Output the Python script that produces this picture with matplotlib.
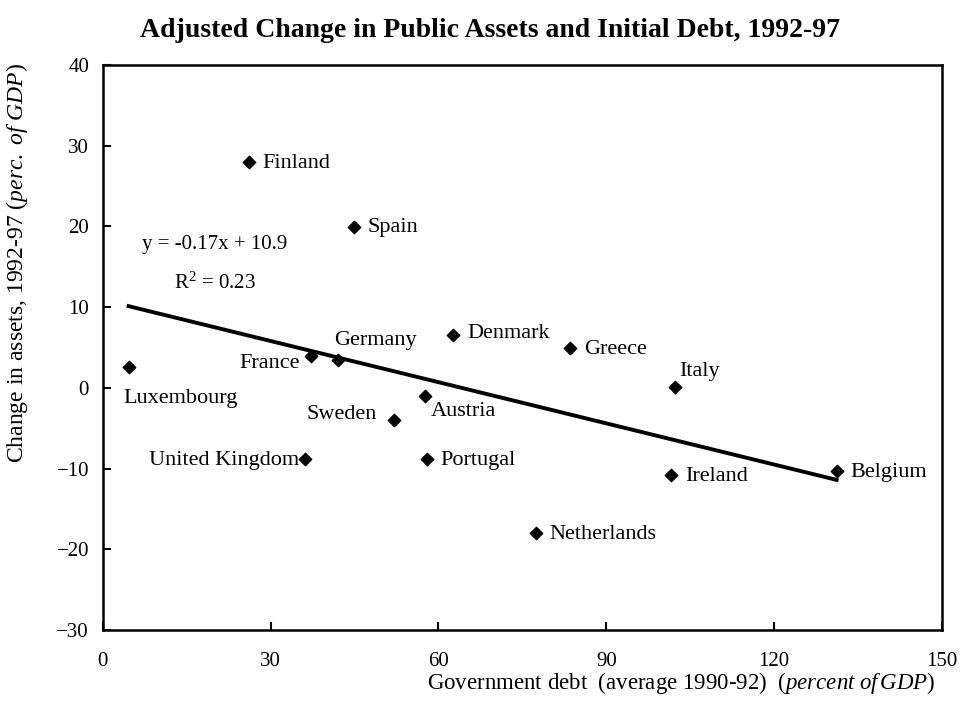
"""Adjusted change in public assets vs initial debt, 1992-97."""

import matplotlib
matplotlib.use("Agg")
import matplotlib.pyplot as plt
import numpy as np

plt.rcParams["font.family"] = ["Liberation Serif", "DejaVu Serif"]
plt.rcParams["mathtext.fontset"] = "custom"
plt.rcParams["mathtext.rm"] = "Liberation Serif"
plt.rcParams["mathtext.it"] = "Liberation Serif:italic"

countries = ["Luxembourg", "Finland", "Spain", "France", "Germany", "Denmark",
             "Greece", "Italy", "Austria", "Sweden", "United Kingdom",
             "Portugal", "Ireland", "Belgium", "Netherlands"]
debt = [4.6, 26.1, 44.9, 37.2, 42.0, 62.6, 83.5, 102.3, 57.6, 52.0, 36.1,
        57.9, 101.6, 131.2, 77.4]
assets = [2.6, 28.0, 19.9, 3.9, 3.4, 6.5, 4.9, 0.1, -1.0, -4.0, -8.8,
          -8.8, -10.8, -10.3, -18.0]

slope, intercept = -0.17, 10.9
r2 = 0.23

# label placement (offset in points, alignment)
label_pos = {
    "Luxembourg": ((-4, -23), "left"),
    "Finland": ((10, -1), "left"),
    "Spain": ((10, 0), "left"),
    "France": ((-8, -5), "right"),
    "Germany": ((-3, 14), "left"),
    "Denmark": ((10, 1), "left"),
    "Greece": ((10, -1), "left"),
    "Italy": ((3, 11), "left"),
    "Austria": ((4, -11), "left"),
    "Sweden": ((-12, 4), "right"),
    "United Kingdom": ((-4, -1), "right"),
    "Portugal": ((10, -1), "left"),
    "Ireland": ((10, -1), "left"),
    "Belgium": ((10, -1), "left"),
    "Netherlands": ((10, -1), "left"),
}

fig = plt.figure(figsize=(9.62, 7.18), dpi=100)
ax = fig.add_axes([0.107, 0.1226, 0.872, 0.7869])

ax.scatter(debt, assets, marker="D", s=40, color="black", zorder=3)

xs = np.array([min(debt), max(debt)])
ax.plot(xs, slope * xs + intercept, color="black", lw=2.8, zorder=2)

for name, x, y in zip(countries, debt, assets):
    (dx, dy), ha = label_pos[name]
    ax.annotate(name, (x, y), xytext=(dx, dy), textcoords="offset points",
                ha=ha, va="center", fontsize=16)

ax.text(20.0, 17.7, f"y = {slope}x + {intercept}", ha="center", va="center", fontsize=15)
ax.text(20.0, 13.0, f"R$^2$ = {r2}", ha="center", va="center", fontsize=15)

ax.set_xlim(0, 150)
ax.set_ylim(-30, 40)
ax.set_xticks(range(0, 151, 30))
ax.set_yticks(range(-30, 41, 10))
ax.set_yticklabels([str(v).replace("-", "\u2212") for v in range(-30, 41, 10)])
ax.tick_params(axis="y", direction="in", length=6, width=1.5, labelsize=15, pad=10)
ax.tick_params(axis="x", direction="in", length=6, width=1.5, labelsize=15, pad=16)
for sp in ax.spines.values():
    sp.set_linewidth(1.8)

fig.text(0.509, 0.957, "Adjusted Change in Public Assets and Initial Debt, 1992-97",
         ha="center", va="center", fontsize=20, fontweight="bold")
fig.text(0.972, 0.049, "Government debt  (average 1990-92)  $\\mathit{(percent\\ of\\,GDP)}$",
         ha="right", va="center", fontsize=16.5)
fig.text(0.018, 0.912, "Change in assets, 1992-97 $\\mathit{(perc.\\ of\\ GDP)}$",
         ha="center", va="top", rotation=90, fontsize=17)

fig.savefig("out.png", dpi=100)
